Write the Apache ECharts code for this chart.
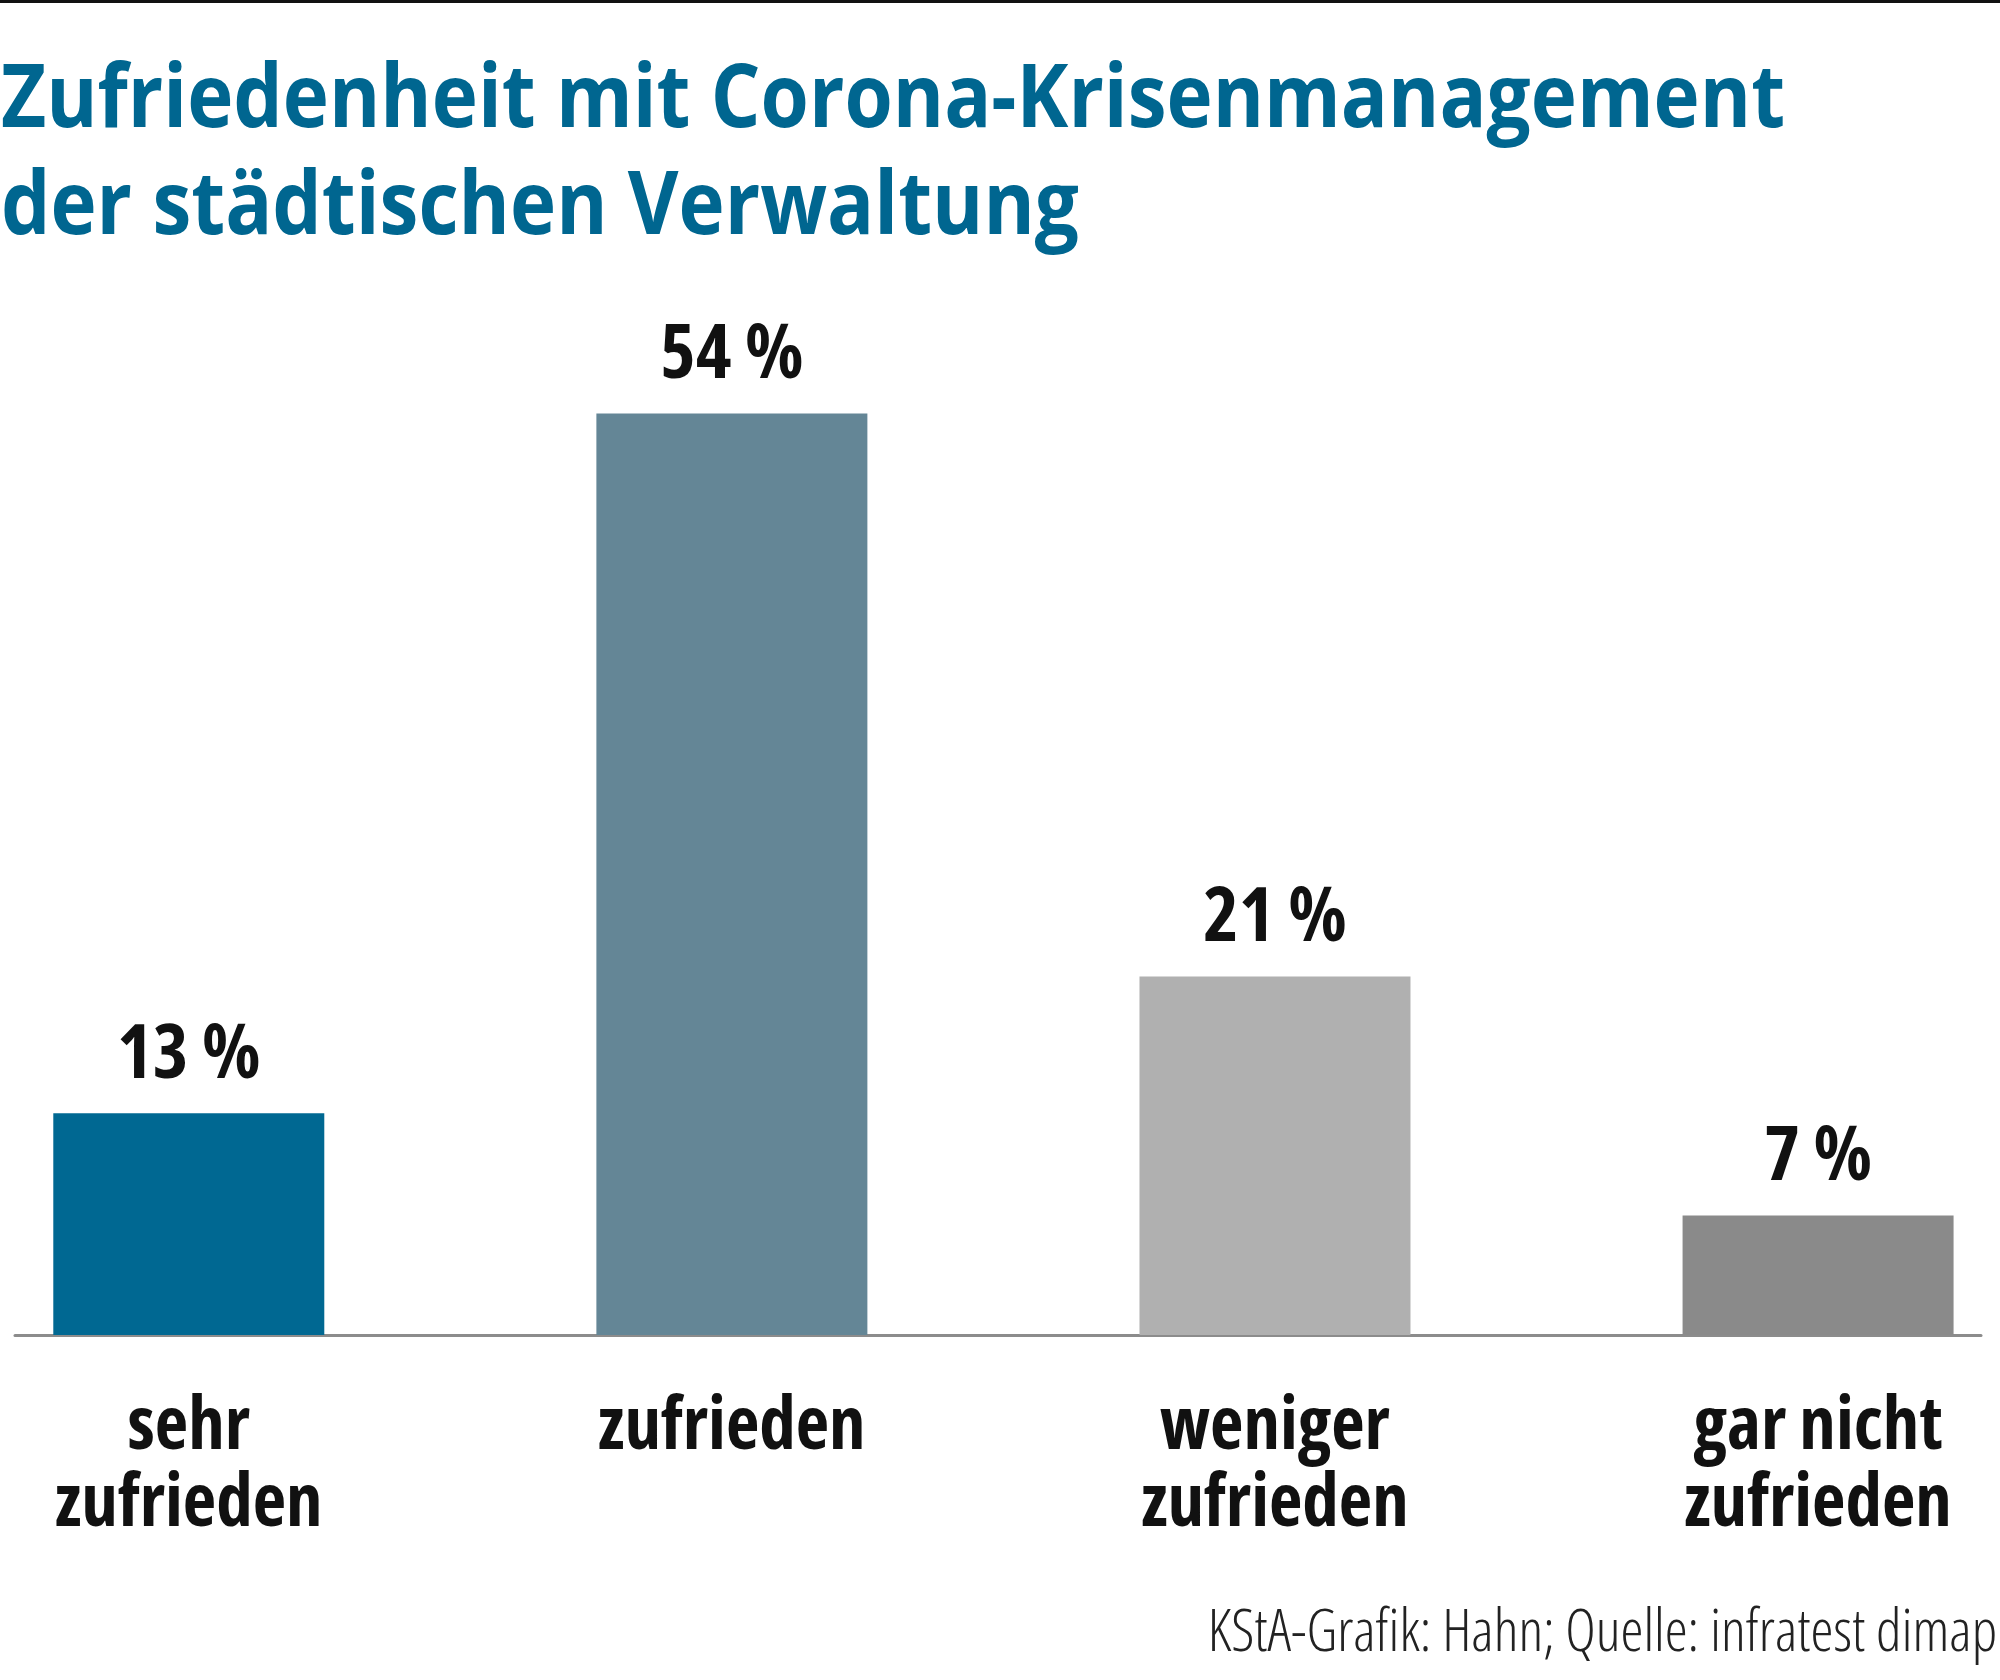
<!DOCTYPE html>
<html>
<head>
<meta charset="utf-8">
<style>
  html, body { margin: 0; padding: 0; background: #fff; }
  #chart { width: 2000px; height: 1680px; }
</style>
<script src="https://cdn.jsdelivr.net/npm/echarts@6/dist/echarts.min.js"></script>
</head>
<body>
<div id="chart"></div>
<script>
  // chart data
  const categories = ['sehr\nzufrieden', 'zufrieden', 'weniger\nzufrieden', 'gar nicht\nzufrieden']
  const values = [13, 54, 21, 7]
  const barColors = ['#006892', '#648696', '#b0b0b0', '#8a8a8a']
  const titleLines = ['Zufriedenheit mit Corona-Krisenmanagement', 'der städtischen Verwaltung']
  const sourceText = 'KStA-Grafik: Hahn; Quelle: infratest dimap'

  const FONT = "'Open Sans', 'Noto Sans', sans-serif"
  const chart = echarts.init(document.getElementById('chart'))

  // title lines are squeezed a bit horizontally, like the original typeface
  const titleText = (text, y) => ({
    type: 'text',
    x: 1,
    y: y,
    scaleX: 0.888,
    style: {
      text: text,
      fill: '#006690',
      fontFamily: FONT,
      fontWeight: 'bold',
      fontSize: 88,
      verticalAlign: 'middle'
    }
  })

  chart.setOption({
    backgroundColor: '#fff',
    animation: false,
    grid: {
      left: 15,
      right: 19,
      top: 311,
      bottom: 345
    },
    xAxis: {
      type: 'value',
      min: -0.32,
      max: 3.3,
      splitLine: { show: false },
      axisTick: { show: false },
      axisLine: {
        show: true,
        lineStyle: { color: '#8c8c8c', width: 3 }
      },
      axisLabel: {
        customValues: [0, 1, 2, 3],
        formatter: (v) => categories[Math.round(v)],
        margin: 55,
        color: '#111',
        fontFamily: FONT,
        fontStyle: 'semi-condensed',
        fontWeight: 'bold',
        fontSize: 73,
        lineHeight: 77,
        align: 'center'
      }
    },
    yAxis: {
      type: 'value',
      min: 0,
      max: 60,
      show: false
    },
    series: [{
      type: 'bar',
      barWidth: 271,
      data: values.map((v, i) => ({
        value: [i, v],
        itemStyle: { color: barColors[i] }
      })),
      label: {
        show: true,
        position: 'top',
        distance: 19,
        formatter: (p) => p.value[1] + ' %',
        color: '#111',
        fontFamily: FONT,
        fontStyle: 'semi-condensed',
        fontWeight: 'bold',
        fontSize: 76
      }
    }],
    graphic: [
      {
        type: 'rect',
        left: 0,
        top: 0,
        shape: { width: 2000, height: 3 },
        style: { fill: '#111' }
      },
      titleText(titleLines[0], 102),
      titleText(titleLines[1], 209),
      {
        type: 'text',
        x: 1997,
        y: 1634,
        style: {
          text: sourceText,
          fill: '#222',
          fontFamily: FONT,
          fontStyle: 'semi-condensed',
          fontWeight: 300,
          fontSize: 58,
          align: 'right',
          verticalAlign: 'middle'
        }
      }
    ]
  })
</script>
</body>
</html>
